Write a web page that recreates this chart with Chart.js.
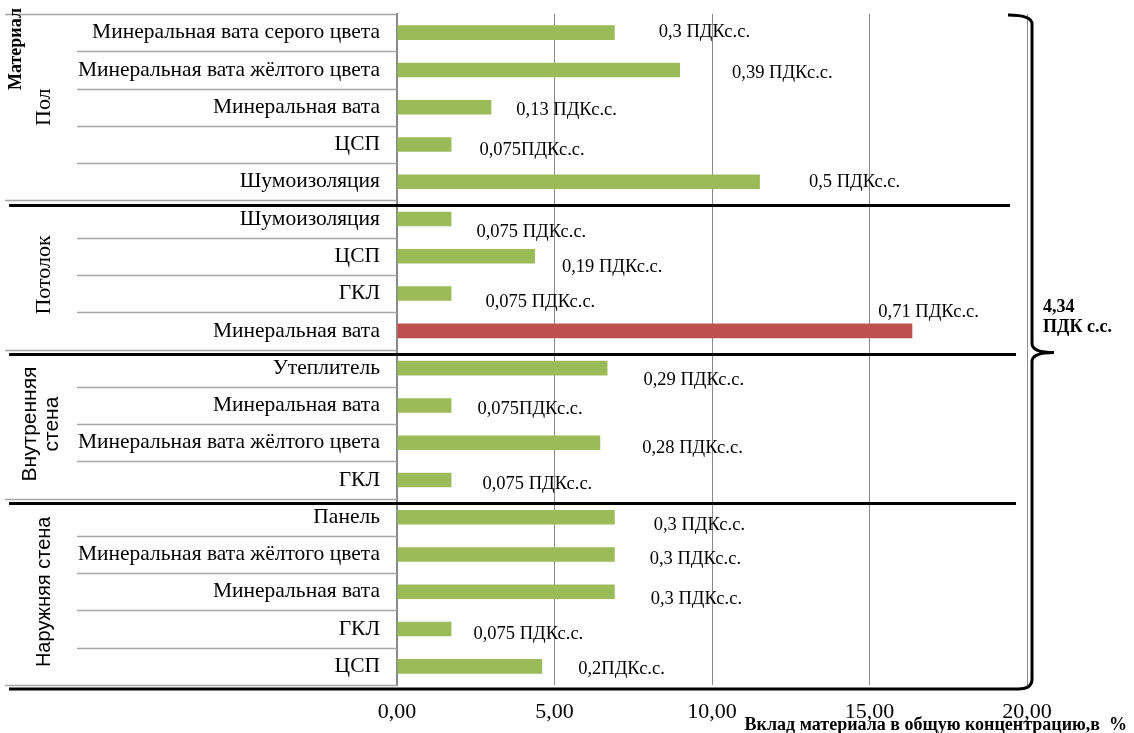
<!DOCTYPE html>
<html>
<head>
<meta charset="utf-8">
<script src="https://cdn.jsdelivr.net/npm/chart.js@4/dist/chart.umd.min.js"></script>
<style>
  html, body { margin: 0; padding: 0; background: #ffffff; }
  canvas { display: block; }
</style>
</head>
<body>
<canvas id="chart" width="1134" height="733"></canvas>
<script>
// Materials, top to bottom, grouped by building element
const materials = [
  'Минеральная вата серого цвета',
  'Минеральная вата жёлтого цвета',
  'Минеральная вата',
  'ЦСП',
  'Шумоизоляция',
  'Шумоизоляция',
  'ЦСП',
  'ГКЛ',
  'Минеральная вата',
  'Утеплитель',
  'Минеральная вата',
  'Минеральная вата жёлтого цвета',
  'ГКЛ',
  'Панель',
  'Минеральная вата жёлтого цвета',
  'Минеральная вата',
  'ГКЛ',
  'ЦСП'
];

// Contribution of each material, in fractions of the MPC (ПДК с.с.)
const pdk = [0.3, 0.39, 0.13, 0.075, 0.5, 0.075, 0.19, 0.075, 0.71, 0.29, 0.075, 0.28, 0.075, 0.3, 0.3, 0.3, 0.075, 0.2];
const pdkLabels = [
  '0,3 ПДКс.с.', '0,39 ПДКс.с.', '0,13 ПДКс.с.', '0,075ПДКс.с.', '0,5 ПДКс.с.',
  '0,075 ПДКс.с.', '0,19 ПДКс.с.', '0,075 ПДКс.с.', '0,71 ПДКс.с.',
  '0,29 ПДКс.с.', '0,075ПДКс.с.', '0,28 ПДКс.с.', '0,075 ПДКс.с.',
  '0,3 ПДКс.с.', '0,3 ПДКс.с.', '0,3 ПДКс.с.', '0,075 ПДКс.с.', '0,2ПДКс.с.'
];
const totalPdk = 4.34;
const totalLabel = ['4,34', 'ПДК с.с.'];

// Building elements and how many materials belong to each
const groupNames = [['Пол'], ['Потолок'], ['Внутренняя', 'стена'], ['Наружняя стена']];
const groupSizes = [5, 4, 4, 5];

const xTicks = [0, 5, 10, 15, 20];
const axisTitle = 'Вклад материала в общую концентрацию,в  %';
const cornerTitle = 'Материал';

// Share of the total concentration, in percent
const shares = pdk.map(v => v / totalPdk * 100);

// ---- presentation ----
const GREEN = '#9bbb59';
const RED = '#c0504d';
const maxShare = Math.max(...shares);
const barColors = shares.map(v => (v === maxShare ? RED : GREEN));

// offset of each value label from the end of its bar [dx, dy]
const labelNudge = [
  [44, 0], [52, 3], [25, 3], [28, 6], [49, 0],
  [25, 13], [27, 11], [34, 9], [-34, -19],
  [36, 12], [26, 4], [42, 5], [31, 4],
  [39, 8], [35, 5], [36, 7], [22, 5], [36, 3]
];

const SERIF = '"Liberation Serif", "Times New Roman", serif';
const SANS = '"Liberation Sans", Arial, sans-serif';
const groupFonts = ['22px ' + SERIF, '22px ' + SERIF, '21px ' + SANS, '20px ' + SANS];

const decor = {
  id: 'decor',
  afterDraw(chart) {
    const { ctx, chartArea: a, scales: { y } } = chart;
    const n = materials.length;
    const edge = i => (i === 0 ? a.top : i === n ? a.bottom
      : (y.getPixelForValue(i - 1) + y.getPixelForValue(i)) / 2);

    const starts = [];
    let acc = 0;
    groupSizes.forEach(s => { starts.push(acc); acc += s; });
    const isGroupEdge = i => i === 0 || i === n || starts.includes(i);

    ctx.save();

    // category separators on the left
    ctx.strokeStyle = '#a6a6a6';
    ctx.lineWidth = 1.5;
    for (let i = 0; i <= n; i++) {
      const yy = Math.round(edge(i)) + 0.5;
      ctx.beginPath();
      ctx.moveTo(isGroupEdge(i) ? 5 : 77, yy);
      ctx.lineTo(a.left, yy);
      ctx.stroke();
    }

    // group names, rotated
    groupNames.forEach((lines, g) => {
      const y0 = edge(starts[g]);
      const y1 = edge(starts[g] + groupSizes[g]);
      const cy = (y0 + y1) / 2;
      ctx.save();
      ctx.fillStyle = '#000';
      ctx.textAlign = 'center';
      ctx.textBaseline = 'middle';
      ctx.font = groupFonts[g];
      if (lines.length === 1) {
        ctx.translate(44, cy);
        ctx.rotate(-Math.PI / 2);
        ctx.fillText(lines[0], 0, 0);
      } else {
        ctx.translate(41, cy);
        ctx.rotate(-Math.PI / 2);
        ctx.fillText(lines[0], 0, -11);
        ctx.fillText(lines[1], 0, 11);
      }
      ctx.restore();
    });

    // corner title
    ctx.save();
    ctx.fillStyle = '#000';
    ctx.font = 'bold 18px ' + SERIF;
    ctx.textAlign = 'right';
    ctx.textBaseline = 'middle';
    ctx.translate(16, 8);
    ctx.rotate(-Math.PI / 2);
    ctx.fillText(cornerTitle, 0, 0);
    ctx.restore();

    // thick black rules between building elements
    const bx = 1032;
    ctx.strokeStyle = '#000';
    ctx.lineWidth = 3;
    const ruleEnds = { 5: 1010, 9: 1016, 13: 1016 };
    starts.slice(1).forEach(s => {
      const yy = edge(s) + 5;
      ctx.beginPath();
      ctx.moveTo(9, yy);
      ctx.lineTo(ruleEnds[s] || 1012, yy);
      ctx.stroke();
    });

    // bottom rule joined to the brace
    const by = a.bottom + 4;
    const tipY = edge(starts[2]) + 3;
    ctx.beginPath();
    ctx.moveTo(9, by);
    ctx.lineTo(1018, by);
    ctx.quadraticCurveTo(bx, by, bx, by - 10);
    ctx.lineTo(bx, tipY + 9);
    ctx.quadraticCurveTo(bx, tipY, bx + 22, tipY);
    ctx.moveTo(bx + 22, tipY);
    ctx.quadraticCurveTo(bx, tipY, bx, tipY - 9);
    ctx.lineTo(bx, a.top + 10);
    ctx.quadraticCurveTo(bx, a.top + 1, 1008, a.top + 1);
    ctx.stroke();

    // total next to the brace
    ctx.fillStyle = '#000';
    ctx.font = 'bold 18px ' + SERIF;
    ctx.textAlign = 'left';
    ctx.textBaseline = 'alphabetic';
    ctx.fillText(totalLabel[0], 1043, tipY - 41);
    ctx.fillText(totalLabel[1], 1043, tipY - 21);

    // value labels
    const meta = chart.getDatasetMeta(0);
    ctx.font = '18.5px ' + SERIF;
    ctx.textBaseline = 'middle';
    meta.data.forEach((bar, i) => {
      const [dx, dy] = labelNudge[i];
      ctx.fillText(pdkLabels[i], bar.x + dx, bar.y + dy);
    });

    // axis title
    ctx.font = 'bold 18px ' + SERIF;
    ctx.textAlign = 'right';
    ctx.textBaseline = 'middle';
    ctx.fillText(axisTitle, 1127, 725);

    ctx.restore();
  }
};

new Chart(document.getElementById('chart'), {
  type: 'bar',
  data: {
    labels: materials,
    datasets: [{
      data: shares,
      backgroundColor: barColors,
      borderWidth: 0,
      categoryPercentage: 1,
      barPercentage: 0.39
    }]
  },
  options: {
    indexAxis: 'y',
    responsive: false,
    animation: false,
    devicePixelRatio: 1,
    layout: { padding: { left: 0, right: 107, top: 14, bottom: 0 } },
    plugins: { legend: { display: false }, tooltip: { enabled: false } },
    scales: {
      x: {
        min: 0,
        max: 20,
        afterBuildTicks: s => { s.ticks = xTicks.map(v => ({ value: v })); },
        ticks: {
          callback: v => v.toFixed(2).replace('.', ','),
          font: { family: SERIF, size: 22 },
          color: '#000',
          padding: 14,
          maxRotation: 0
        },
        grid: { color: '#8a8a8a', lineWidth: 1, drawTicks: false },
        border: { display: false },
        afterFit: s => { s.height = 48; s.paddingLeft = 0; s.paddingRight = 0; }
      },
      y: {
        grid: { display: false, drawTicks: false },
        border: { color: '#8a8a8a', width: 2 },
        ticks: {
          font: { family: SERIF, size: 21.5 },
          color: '#000',
          padding: 17,
          autoSkip: false
        },
        afterFit: s => { s.width = 397; s.paddingTop = 0; s.paddingBottom = 0; }
      }
    }
  },
  plugins: [decor]
});
</script>
</body>
</html>
